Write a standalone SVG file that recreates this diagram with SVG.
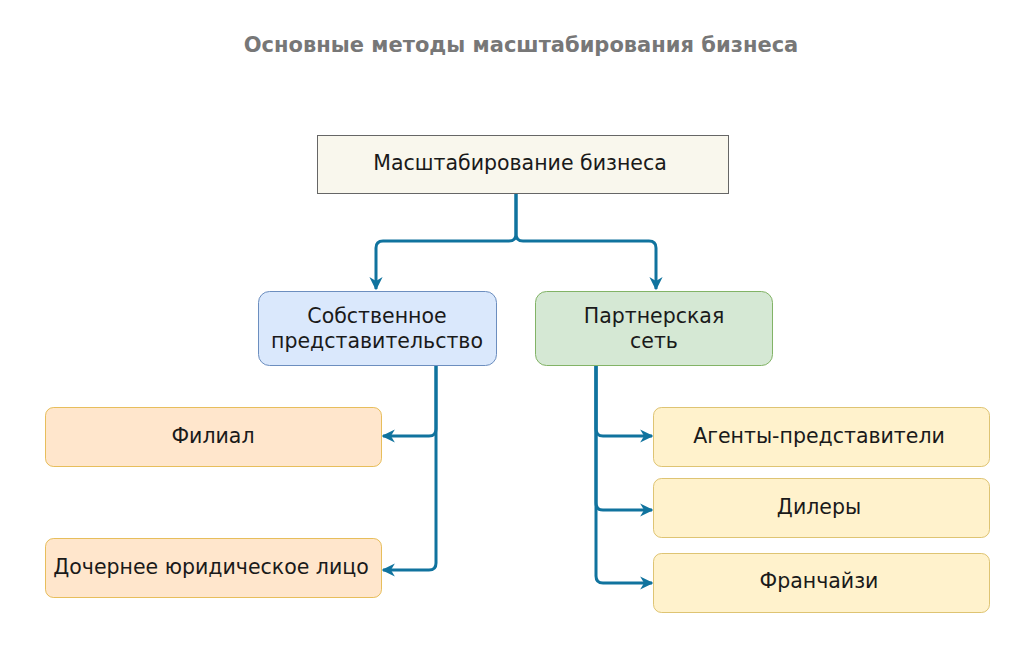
<svg xmlns="http://www.w3.org/2000/svg" width="1024" height="666" viewBox="0 0 1024 666">
<defs>
<marker id="arr" viewBox="0 0 10 10" refX="9" refY="5" markerWidth="4.4" markerHeight="4.4" markerUnits="strokeWidth" orient="auto">
<path d="M0,0 L10,5 L0,10 L3,5 Z" fill="#10739e"/>
</marker>
<style>
text{font-family:"DejaVu Sans","Noto Sans",sans-serif;font-size:20.5px;fill:#1a1a1a;text-anchor:middle;dominant-baseline:central}
.title{font-weight:bold;fill:#777;font-size:21px}
.conn{fill:none;stroke:#10739e;stroke-width:3;stroke-linejoin:round}
.blue{fill:#dae8fc;stroke:#6c8ebf}
.green{fill:#d5e8d4;stroke:#82b366}
.orange{fill:#ffe6cc;stroke:#d79b00;stroke-opacity:0.6}
.yellow{fill:#fff2cc;stroke:#d6b656;stroke-opacity:0.8}
</style>
</defs>
<rect width="1024" height="666" fill="#fff"/>
<text class="title" x="521" y="45">Основные методы масштабирования бизнеса</text>
<g id="connectors">
<path class="conn" d="M516,194 V234 Q516,241 509,241 H383 Q376,241 376,248 V289" marker-end="url(#arr)"/>
<path class="conn" d="M516,194 V234 Q516,241 523,241 H649 Q656,241 656,248 V289" marker-end="url(#arr)"/>
<path class="conn" d="M436,366 V429 Q436,436 429,436 H383" marker-end="url(#arr)"/>
<path class="conn" d="M436,366 V563 Q436,570 429,570 H383" marker-end="url(#arr)"/>
<path class="conn" d="M596,366 V429 Q596,436 603,436 H652" marker-end="url(#arr)"/>
<path class="conn" d="M596,366 V503 Q596,510 603,510 H652" marker-end="url(#arr)"/>
<path class="conn" d="M596,366 V576 Q596,583 603,583 H652" marker-end="url(#arr)"/>
</g>
<g id="root">
<rect x="317.5" y="135.5" width="411" height="58" fill="#f9f7ed" stroke="#666"/>
<text x="520" y="163">Масштабирование бизнеса</text>
</g>
<g id="own">
<rect class="blue" x="258.5" y="291.5" width="238" height="74" rx="11"/>
<text x="377" y="316">Собственное</text>
<text x="377" y="341">представительство</text>
</g>
<g id="partner">
<rect class="green" x="535.5" y="291.5" width="237" height="74" rx="11"/>
<text x="654" y="316">Партнерская</text>
<text x="654" y="341">сеть</text>
</g>
<g id="filial">
<rect class="orange" x="45.5" y="407.5" width="336" height="59" rx="8"/>
<text x="213" y="436">Филиал</text>
</g>
<g id="subsidiary">
<rect class="orange" x="45.5" y="538.5" width="336" height="59" rx="8"/>
<text x="211" y="567">Дочернее юридическое лицо</text>
</g>
<g id="agents">
<rect class="yellow" x="653.5" y="407.5" width="336" height="59" rx="8"/>
<text x="819" y="436">Агенты-представители</text>
</g>
<g id="dealers">
<rect class="yellow" x="653.5" y="478.5" width="336" height="59" rx="8"/>
<text x="819" y="507">Дилеры</text>
</g>
<g id="franchise">
<rect class="yellow" x="653.5" y="553.5" width="336" height="59" rx="8"/>
<text x="819" y="581">Франчайзи</text>
</g>
</svg>
